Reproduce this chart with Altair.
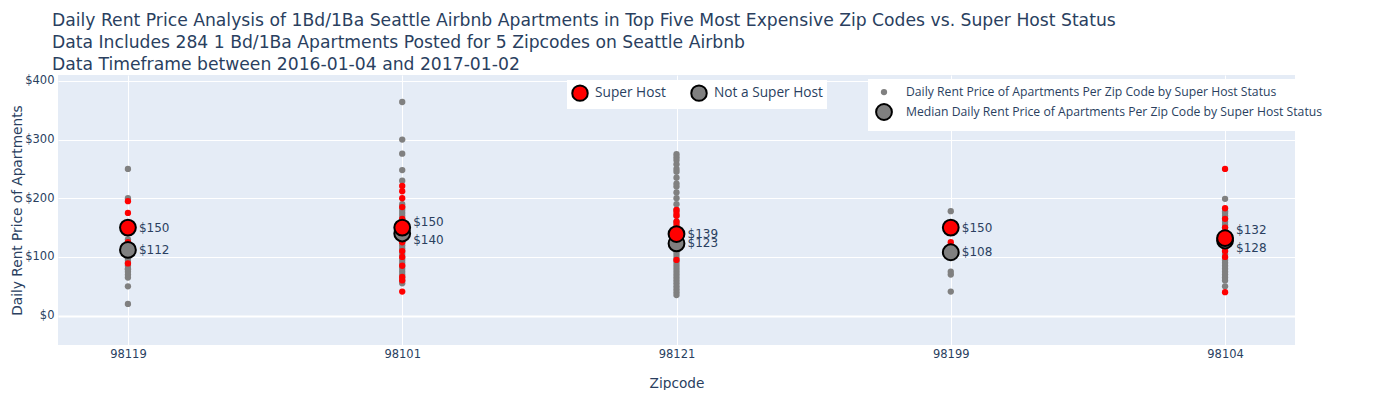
import altair as alt
import pandas as pd

zipcodes = ["98119", "98101", "98121", "98199", "98104"]

super_98119 = [195, 175, 150, 150, 150, 125, 89]
non_98119 = [250, 200, 130, 125, 120, 115, 112, 110, 105, 100, 95, 90, 85, 80, 79, 75, 70, 65, 50, 20]

super_98101 = [221, 212, 200, 185, 165, 150, 150, 150, 140, 125, 110, 100, 85, 66, 60, 41]
non_98101 = [364, 300, 276, 248, 230, 190, 185, 180, 175, 170, 165, 160, 155, 150, 145, 140, 140,
             135, 130, 125, 120, 115, 110, 105, 100, 95, 90, 85, 80, 75, 70, 65, 60, 55]

super_98121 = [180, 175, 170, 160, 155, 150, 139, 139, 135, 120, 95]
non_98121 = [275, 270, 265, 258, 250, 245, 235, 225, 220, 210, 200, 190, 180, 170, 160, 150, 140,
             130, 125, 123, 120, 115, 110, 105, 100, 95, 90, 85, 80, 75, 70, 65, 60, 55, 50, 45, 40, 35]

super_98199 = [150, 150, 125]
non_98199 = [178, 108, 108, 75, 70, 41]

super_98104 = [250, 183, 165, 150, 140, 132, 132, 125, 110, 100, 40]
non_98104 = [199, 178, 175, 170, 165, 160, 155, 150, 145, 140, 135, 130, 128, 125, 120, 115, 110,
             105, 100, 95, 90, 85, 80, 75, 70, 65, 60, 50]

median_super = [150, 150, 139, 150, 132]
median_non = [112, 140, 123, 108, 128]

HOST_SUPER = "Super Host"
HOST_NON = "Not a Super Host"
KIND_RAW = "Daily Rent Price of Apartments Per Zip Code by Super Host Status"
KIND_MED = "Median Daily Rent Price of Apartments Per Zip Code by Super Host Status"

super_lists = [super_98119, super_98101, super_98121, super_98199, super_98104]
non_lists = [non_98119, non_98101, non_98121, non_98199, non_98104]

rows = []
for z, vals in zip(zipcodes, non_lists):
    for v in vals:
        rows.append({"zip": z, "host": HOST_NON, "price": v, "kind": KIND_RAW})
for z, vals in zip(zipcodes, super_lists):
    for v in vals:
        rows.append({"zip": z, "host": HOST_SUPER, "price": v, "kind": KIND_RAW})
for z, v in zip(zipcodes, median_non):
    rows.append({"zip": z, "host": HOST_NON, "price": v, "kind": KIND_MED})
for z, v in zip(zipcodes, median_super):
    rows.append({"zip": z, "host": HOST_SUPER, "price": v, "kind": KIND_MED})
df = pd.DataFrame(rows)

# label placement: when the two medians nearly coincide, spread the labels apart
Y_MIN, Y_MAX, PLOT_H = -50, 410, 270
px_per_dollar = PLOT_H / (Y_MAX - Y_MIN)
spread = 9 / px_per_dollar
lab_rows = []
for z, s, n in zip(zipcodes, median_super, median_non):
    if abs(s - n) < 12:
        mid = (s + n) / 2
        ys, yn = mid + spread, mid - spread
    else:
        ys, yn = s, n
    lab_rows.append({"zip": z, "ly": ys, "label": f"${s}"})
    lab_rows.append({"zip": z, "ly": yn, "label": f"${n}"})
labels = pd.DataFrame(lab_rows)

TXT = "#2a3f5f"
FONT = "Open Sans"
TFONT = "DejaVu Sans"

x_enc = alt.X(
    "zip:N", sort=zipcodes,
    scale=alt.Scale(type="point", padding=0.255),
    axis=alt.Axis(title="Zipcode", labelAngle=0, ticks=False, domain=False,
                  grid=True, gridColor="white", gridWidth=1,
                  labelFontSize=11.5, labelColor=TXT, labelFont=TFONT, labelPadding=3,
                  titleFontSize=13.7, titleColor=TXT, titleFont=TFONT,
                  titleFontWeight="normal", titlePadding=17),
)
y_enc = alt.Y(
    "price:Q",
    scale=alt.Scale(domain=[Y_MIN, Y_MAX], nice=False, zero=False),
    axis=alt.Axis(title="Daily Rent Price of Apartments", values=[0, 100, 200, 300, 400],
                  labelExpr="'$' + datum.value", ticks=False, domain=False,
                  gridColor="white",
                  gridWidth={"condition": {"test": "datum.value === 0", "value": 2}, "value": 1},
                  labelFontSize=11.5, labelColor=TXT, labelFont=TFONT, labelPadding=4,
                  titleFontSize=13.7, titleColor=TXT, titleFont=TFONT,
                  titleFontWeight="normal", titlePadding=0),
)

legend2 = alt.Legend(title=None, orient="none", legendX=810, legendY=4,
                     fillColor="white", symbolFillColor="grey", symbolStrokeColor="black",
                     labelFontSize=12.2, labelColor=TXT, labelFont=FONT, padding=7,
                     rowPadding=1, labelOffset=13, symbolType="circle", labelLimit=500)

points = alt.Chart(df).mark_point(filled=True, opacity=1).encode(
    x=x_enc,
    y=y_enc,
    color=alt.Color("host:N", scale=alt.Scale(domain=[HOST_SUPER, HOST_NON], range=["#ff0000", "#808080"]),
                    legend=alt.Legend(title=None, orient="none", legendX=509, legendY=5,
                                      direction="horizontal", fillColor="white",
                                      symbolType="circle", symbolSize=240,
                                      symbolStrokeColor="black", symbolStrokeWidth=2,
                                      labelFontSize=13.7, labelColor=TXT, labelFont=FONT,
                                      padding=4, columnPadding=21, labelOffset=6)),
    size=alt.Size("kind:O", scale=alt.Scale(domain=[KIND_RAW, KIND_MED], range=[40, 250]), legend=legend2),
    strokeWidth=alt.StrokeWidth("kind:O", scale=alt.Scale(domain=[KIND_RAW, KIND_MED], range=[0, 2]), legend=legend2),
    stroke=alt.value("black"),
)

text = alt.Chart(labels).mark_text(
    align="left", baseline="middle", dx=11, fontSize=12, color=TXT, font=TFONT
).encode(x=alt.X("zip:N", sort=zipcodes), y="ly:Q", text="label:N")

chart = alt.layer(points, text).properties(
    width=1237, height=PLOT_H,
    title=alt.Title(
        text=["Daily Rent Price Analysis of 1Bd/1Ba Seattle Airbnb Apartments in Top Five Most Expensive Zip Codes vs. Super Host Status",
              "Data Includes 284 1 Bd/1Ba Apartments Posted for 5 Zipcodes on Seattle Airbnb",
              "Data Timeframe between 2016-01-04 and 2017-01-02"],
        anchor="start", frame="group", fontSize=17.2, font=TFONT, color=TXT, fontWeight="normal",
        lineHeight=22, dx=-6, offset=1.5),
    background="white",
    autosize=alt.AutoSizeParams(type="none"),
    padding={"left": 50, "top": 67, "right": 80, "bottom": 45},
).configure_view(fill="#E5ECF6", strokeWidth=0)

chart.save("out.html", embed_options={"renderer": "svg", "actions": False})
